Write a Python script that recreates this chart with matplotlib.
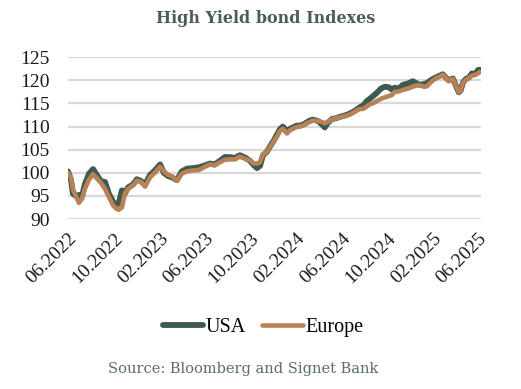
import matplotlib
matplotlib.use("Agg")
import matplotlib.pyplot as plt
import pandas as pd

dates = ["2022-06-01","2022-06-09","2022-06-14","2022-06-22","2022-06-30","2022-07-08","2022-07-16","2022-07-27",
         "2022-08-07","2022-08-17","2022-08-28","2022-09-08","2022-09-18","2022-09-29","2022-10-07","2022-10-15",
         "2022-10-23","2022-10-31","2022-11-08","2022-11-22","2022-12-02","2022-12-13","2022-12-24","2023-01-06",
         "2023-01-19","2023-02-02","2023-02-12","2023-02-23","2023-03-06","2023-03-19","2023-04-01","2023-04-15",
         "2023-05-01","2023-05-17","2023-06-02","2023-06-15","2023-06-28","2023-07-12","2023-07-25","2023-08-08",
         "2023-08-21","2023-09-03","2023-09-17","2023-09-30","2023-10-11","2023-10-19","2023-10-27","2023-11-04",
         "2023-11-14","2023-11-22","2023-12-03","2023-12-11","2023-12-19","2023-12-27","2024-01-07","2024-01-15",
         "2024-01-23","2024-02-02","2024-02-10","2024-02-21","2024-02-29","2024-03-08","2024-03-16","2024-03-30",
         "2024-04-09","2024-04-17","2024-04-25","2024-05-06","2024-05-17","2024-05-27","2024-06-10","2024-06-23",
         "2024-07-04","2024-07-12","2024-07-20","2024-07-28","2024-08-07","2024-08-15","2024-08-23","2024-09-03",
         "2024-09-14","2024-09-24","2024-10-05","2024-10-13","2024-10-21","2024-11-01","2024-11-11","2024-11-25",
         "2024-12-08","2024-12-19","2024-12-27","2025-01-07","2025-01-15","2025-01-23","2025-01-31","2025-02-10",
         "2025-02-18","2025-02-26","2025-03-06","2025-03-14","2025-03-20","2025-03-25","2025-03-30","2025-04-05",
         "2025-04-10","2025-04-15","2025-04-21","2025-04-29","2025-05-07","2025-05-15","2025-05-23","2025-05-31",
         "2025-06-05"]

usa = [100.3, 98.5, 95.5, 95.0, 95.2, 94.8, 97.5, 99.8,
       100.8, 99.5, 98.2, 98.0, 95.5, 93.8, 93.0, 93.5,
       96.2, 95.5, 96.8, 97.5, 98.6, 98.2, 97.5, 99.5,
       100.5, 101.8, 100.0, 99.3, 99.0, 98.4, 100.3, 100.9,
       101.0, 101.2, 101.6, 102.0, 101.8, 102.6, 103.4, 103.4,
       103.2, 103.8, 103.3, 102.6, 101.6, 101.0, 101.5, 103.8,
       104.5, 105.6, 107.0, 108.2, 109.4, 110.0, 109.0, 109.5,
       109.8, 110.2, 110.2, 110.5, 110.9, 111.3, 111.5, 111.2,
       110.5, 109.8, 110.8, 111.6, 111.8, 112.1, 112.4, 112.8,
       113.3, 113.7, 114.2, 114.5, 115.5, 116.0, 116.5, 117.3,
       118.2, 118.6, 118.5, 118.0, 118.4, 118.2, 119.0, 119.3,
       119.8, 119.3, 119.0, 119.2, 119.4, 119.9, 120.3, 120.7,
       121.0, 121.3, 120.6, 120.0, 120.2, 120.4, 119.5, 118.3,
       117.4, 117.8, 119.5, 120.3, 120.6, 121.5, 121.3, 122.2,
       122.3]

europe = [100.0, 99.0, 96.5, 95.0, 93.5, 94.3, 96.5, 98.5,
          99.7, 98.8, 97.8, 96.5, 94.8, 93.0, 92.3, 92.0,
          92.5, 95.5, 96.5, 97.3, 98.3, 98.0, 97.0, 99.0,
          100.0, 101.3, 100.3, 99.6, 99.2, 98.3, 99.8, 100.3,
          100.5, 100.6, 101.3, 101.8, 101.6, 102.3, 102.8, 102.9,
          102.9, 103.5, 103.0, 102.7, 102.0, 102.0, 102.3, 104.0,
          104.5, 105.5, 106.8, 107.8, 109.0, 109.5, 108.5, 109.2,
          109.5, 109.9, 110.0, 110.3, 110.7, 111.0, 111.3, 111.2,
          111.0, 110.7, 111.0, 111.5, 111.8, 112.0, 112.3, 112.6,
          113.1, 113.5, 113.8, 113.8, 114.3, 114.8, 115.0, 115.5,
          116.0, 116.3, 116.6, 116.8, 117.5, 117.6, 117.9, 118.2,
          118.6, 118.9, 118.9, 118.6, 118.7, 119.4, 120.0, 120.5,
          120.8, 121.2, 120.5, 119.8, 120.2, 120.3, 119.5, 118.3,
          117.4, 117.8, 119.5, 120.1, 120.5, 121.0, 121.2, 121.5,
          121.8]

yticks = [90, 95, 100, 105, 110, 115, 120, 125]
xtick_dates = ["2022-06-01","2022-10-01","2023-02-01","2023-06-01","2023-10-01",
               "2024-02-01","2024-06-01","2024-10-01","2025-02-01","2025-06-01"]
xtick_labels = ["06.2022","10.2022","02.2023","06.2023","10.2023",
                "02.2024","06.2024","10.2024","02.2025","06.2025"]

serif = ["Liberation Serif", "DejaVu Serif"]
plt.rcParams["font.family"] = serif

fig = plt.figure(figsize=(5.21, 3.89), dpi=100)
ax = fig.add_axes([0.1305, 0.437, 0.7925, 0.416])

d = pd.to_datetime(dates)
ax.plot(d, usa, color="#3f5a4f", lw=4.2, solid_capstyle="round", label="USA", zorder=3)
ax.plot(d, europe, color="#b88256", lw=3.3, solid_capstyle="round", label="Europe", zorder=4)

ax.set_ylim(90, 125)
ax.set_yticks(yticks)
ax.set_xlim(pd.Timestamp("2022-06-01"), pd.Timestamp("2025-06-08"))
ax.set_xticks(pd.to_datetime(xtick_dates))
ax.set_xticklabels(xtick_labels, rotation=45, ha="right", va="top", rotation_mode="anchor")
ax.grid(axis="y", color="#d9d9d9", lw=1.6)
ax.set_axisbelow(True)
for s in ax.spines.values():
    s.set_visible(False)
ax.tick_params(axis="both", length=0, labelsize=14, colors="#1a1a1a")
ax.tick_params(axis="y", pad=13)
ax.tick_params(axis="x", pad=8)

fig.text(0.509, 0.952, "High Yield bond Indexes", ha="center", va="center",
         fontsize=11.5, fontweight="bold", color="#4a5e57", family="DejaVu Serif")

fig.legend(loc="center", bbox_to_anchor=(0.505, 0.158), ncol=2, frameon=False,
           fontsize=14.5, handlelength=2.0, handletextpad=0.15, columnspacing=0.8)

fig.text(0.466, 0.051, "Source: Bloomberg and Signet Bank", ha="center", va="center",
         fontsize=10.5, color="#5a6e67", family="DejaVu Serif")

fig.savefig("out.png", dpi=100)
